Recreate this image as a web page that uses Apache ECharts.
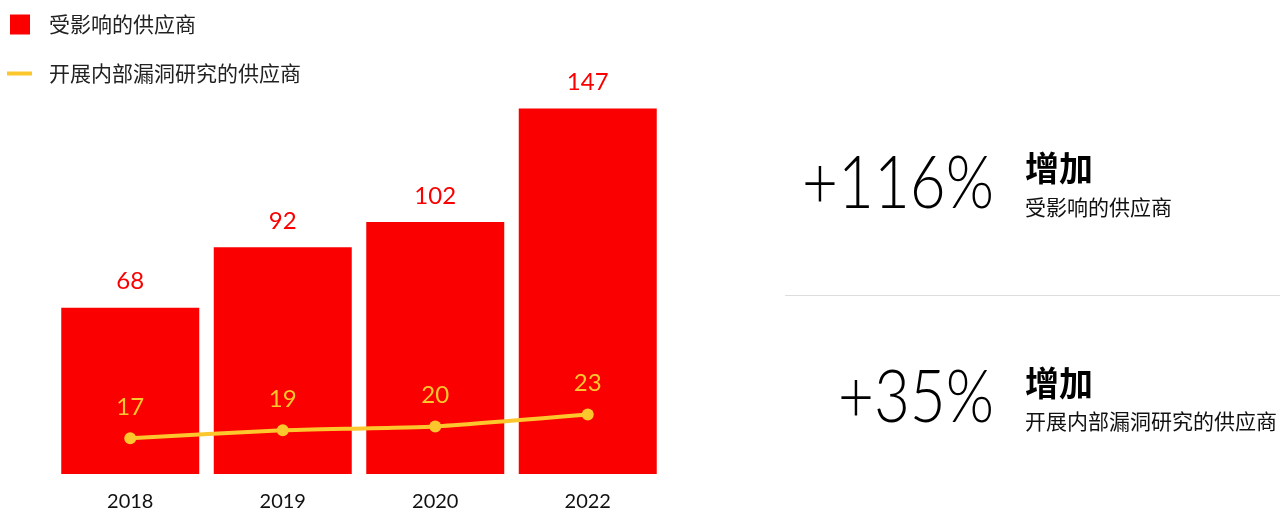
<!DOCTYPE html>
<html>
<head>
<meta charset="utf-8">
<script src="https://cdn.jsdelivr.net/npm/echarts@6/dist/echarts.min.js"></script>
<style>
  html, body { margin: 0; padding: 0; background: #fff; }
  #chart { width: 1280px; height: 512px; }
</style>
</head>
<body>
<div id="chart"></div>
<script>
// Years and supplier counts
const years = ['2018', '2019', '2020', '2022'];
const affectedSuppliers = [68, 92, 102, 147];
const researchSuppliers = [17, 19, 20, 23];
const barName = '受影响的供应商';
const lineName = '开展内部漏洞研究的供应商';
const increaseWord = '增加';

const RED = '#fa0000';
const YELLOW = '#fcc72c';
const NUM_FONT = 'Lato, "Noto Sans", sans-serif';
const CJK_FONT = '"Noto Sans CJK SC", "Noto Sans", sans-serif';

function growth(arr) {
  const first = arr[0], last = arr[arr.length - 1];
  return '+' + Math.round((last - first) / first * 100) + '%';
}

// Big percentage figure, slightly condensed, right-aligned at x
function bigFigure(text, x, y) {
  return {
    type: 'text', x: x, y: y, scaleX: 0.86, originX: 0, originY: 0,
    style: { text: text, font: '300 72px ' + NUM_FONT, fill: '#000', textAlign: 'right', textVerticalAlign: 'middle' }
  };
}

const chart = echarts.init(document.getElementById('chart'));
chart.setOption({
  animation: false,
  legend: [
    {
      data: [barName], orient: 'vertical', left: 10, top: 12.5, padding: 0,
      itemWidth: 20, itemHeight: 20, icon: 'rect',
      textStyle: { fontFamily: CJK_FONT, fontSize: 21, lineHeight: 24, color: '#222', padding: [0, 0, 0, 14] }
    },
    {
      data: [lineName], orient: 'vertical', left: 7, top: 61.5, padding: 0,
      itemWidth: 25, itemHeight: 4, icon: 'rect',
      textStyle: { fontFamily: CJK_FONT, fontSize: 21, lineHeight: 24, color: '#222', padding: [0, 0, 0, 12] }
    }
  ],
  grid: { left: 54, right: 616, top: 101, bottom: 35, containLabel: false },
  xAxis: {
    type: 'category', data: years,
    axisLine: { show: false }, axisTick: { show: false },
    axisLabel: { margin: 18, fontFamily: NUM_FONT, fontSize: 20, color: '#111' }
  },
  yAxis: [
    { type: 'value', min: 2, max: 150, show: false },
    { type: 'value', min: 8, max: 102, show: false }
  ],
  series: [
    {
      name: barName, type: 'bar', data: affectedSuppliers, yAxisIndex: 0,
      barWidth: 138, itemStyle: { color: RED },
      label: { show: true, position: 'top', distance: 14, fontFamily: NUM_FONT, fontSize: 24, color: RED }
    },
    {
      name: lineName, type: 'line', data: researchSuppliers, yAxisIndex: 1,
      smooth: 0.15, symbol: 'circle', symbolSize: 12,
      lineStyle: { color: YELLOW, width: 4 }, itemStyle: { color: YELLOW },
      label: { show: true, position: 'top', distance: 13, fontFamily: NUM_FONT, fontSize: 24, color: YELLOW }
    }
  ],
  graphic: [
    { type: 'line', shape: { x1: 785, y1: 295.5, x2: 1280, y2: 295.5 }, style: { stroke: '#dddddd', lineWidth: 1 } },
    bigFigure(growth(affectedSuppliers), 994, 185),
    { type: 'text', x: 1025, y: 168, style: { text: increaseWord, font: 'bold 34px ' + CJK_FONT, fill: '#000', textAlign: 'left', textVerticalAlign: 'middle' } },
    { type: 'text', x: 1025, y: 207, style: { text: barName, font: '21px ' + CJK_FONT, fill: '#111', textAlign: 'left', textVerticalAlign: 'middle' } },
    bigFigure(growth(researchSuppliers), 994, 399),
    { type: 'text', x: 1025, y: 383, style: { text: increaseWord, font: 'bold 34px ' + CJK_FONT, fill: '#000', textAlign: 'left', textVerticalAlign: 'middle' } },
    { type: 'text', x: 1025, y: 421, style: { text: lineName, font: '21px ' + CJK_FONT, fill: '#111', textAlign: 'left', textVerticalAlign: 'middle' } }
  ]
});
</script>
</body>
</html>
